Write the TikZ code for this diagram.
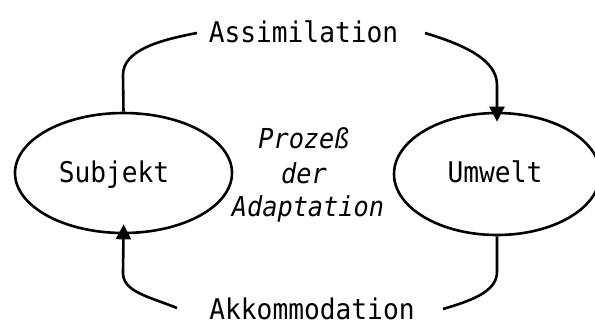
\documentclass[tikz,border=0pt]{standalone}
\usepackage{fontspec}
\newfontfamily\monofont[FakeStretch=0.92]{DejaVu Sans Mono}
\usetikzlibrary{shapes.geometric,arrows.meta}
\tikzset{
  oval/.style={draw, ellipse, line width=2.6pt, inner sep=0pt},
  lbl/.style={font=\monofont\fontsize{28.5}{32}\selectfont, anchor=base, inner sep=0pt},
  mid/.style={font=\monofont\itshape\fontsize{27.5}{30}\selectfont, anchor=base, inner sep=0pt},
  conn/.style={line width=2.6pt},
  tip/.style={conn, -{Triangle[width=15pt,length=15pt]}, shorten >=-10pt}
}
\begin{document}
\begin{tikzpicture}[x=1pt,y=-1pt]
\useasboundingbox (0,0) rectangle (595,325);
\node[oval, minimum width=217pt, minimum height=120pt] (subj) at (123.5,173) {};
\node[oval, minimum width=206pt, minimum height=122pt] (umw) at (497,174) {};
\node[lbl] (tsubj) at (114,182) {Subjekt};
\node[lbl] (tumw) at (495,182) {Umwelt};
\node[lbl] (assim) at (303.5,42) {Assimilation};
\node[lbl] (akk) at (312,319) {Akkommodation};
\node[mid] (p1) at (304,148) {Prozeß};
\node[mid] (p2) at (304,183) {der};
\node[mid] (p3) at (308,216) {Adaptation};
\coordinate (a1) at (197,33);
\coordinate (a2) at (425,33);
\coordinate (k1) at (443,309);
\coordinate (k2) at (177,308);
% Assimilation: Subjekt -> Umwelt
\draw[conn] (subj.north) -- (123,75) .. controls (123,50) and (160,40) .. (a1);
\draw[tip] (a2) .. controls (465,45) and (497,60) .. (497,85) -- (umw.north);
% Akkommodation: Umwelt -> Subjekt
\draw[conn] (umw.south) -- (497,272) .. controls (497,292) and (470,301) .. (k1);
\draw[tip] (k2) .. controls (150,297) and (123,292) .. (123,273) -- (subj.south);
\end{tikzpicture}
\end{document}
